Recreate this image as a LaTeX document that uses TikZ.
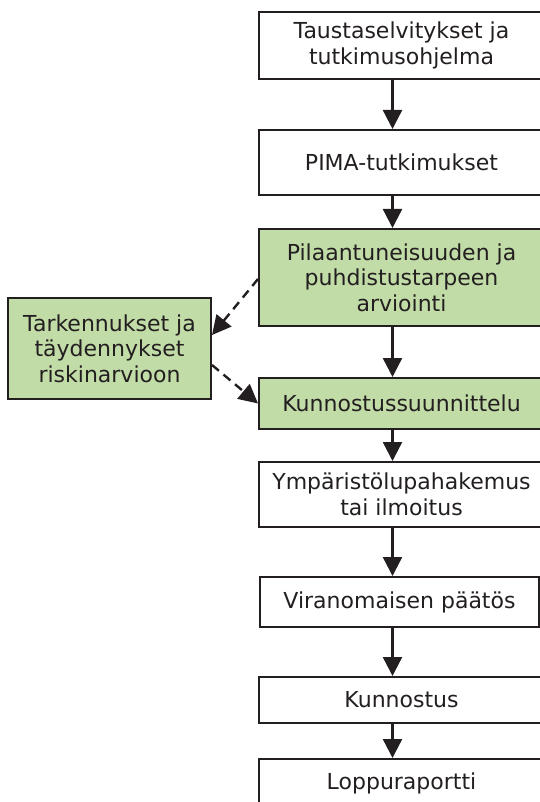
\documentclass[tikz,border=0pt]{standalone}
\usepackage{fontspec}
\setmainfont{DejaVu Sans}
\usetikzlibrary{arrows.meta}
\definecolor{vihrea}{RGB}{194,220,168}
\definecolor{tumma}{RGB}{35,31,32}
\tikzset{
  laatikko/.style={draw=tumma,line width=2pt,fill=white,text=tumma,align=center,
    inner sep=0pt,minimum width=285,font=\fontsize{22}{25.5}\selectfont},
  vihrealaatikko/.style={laatikko,fill=vihrea},
  nuoli/.style={-{Triangle[length=19pt,width=19pt]},line width=2.4pt,color=tumma},
  katkonuoli/.style={nuoli,dash pattern=on 9pt off 6pt}
}
\begin{document}
\begin{tikzpicture}[line cap=butt,line join=miter,x=1pt,y=-1pt]
\useasboundingbox (0,0) rectangle (540,802);
\clip (0,0) rectangle (540,802);
\coordinate (akseli) at (392.5,0);
\node[laatikko,minimum height=67] (tausta) at (401.5,45.5) {Taustaselvitykset ja\\tutkimusohjelma};
\node[laatikko,minimum height=65] (pima) at (401.5,162.5) {PIMA-tutkimukset};
\node[vihrealaatikko,minimum height=97] (arvio) at (401.5,277.5) {Pilaantuneisuuden ja\\puhdistustarpeen\\arviointi};
\node[vihrealaatikko,minimum height=51] (suunn) at (401.5,403.5) {Kunnostussuunnittelu};
\node[laatikko,minimum height=65] (lupa) at (401.5,494.5) {Ympäristölupahakemus\\tai ilmoitus};
\node[laatikko,minimum height=50,minimum width=279] (paatos) at (399.5,602) {Viranomaisen päätös};
\node[laatikko,minimum height=46] (kunn) at (401.5,700) {Kunnostus};
\node[laatikko,minimum height=50] (loppu) at (401.5,784) {\raisebox{6pt}{Loppuraportti}};
\node[vihrealaatikko,minimum height=101,minimum width=203] (tark) at (109.5,348.5) {Tarkennukset ja\\täydennykset\\riskinarvioon};
\draw[nuoli] (tausta.south -| akseli) -- (pima.north -| akseli);
\draw[nuoli] (pima.south -| akseli) -- (arvio.north -| akseli);
\draw[nuoli] (arvio.south -| akseli) -- (suunn.north -| akseli);
\draw[nuoli] (suunn.south -| akseli) -- (lupa.north -| akseli);
\draw[nuoli] (lupa.south -| akseli) -- (paatos.north -| akseli);
\draw[nuoli] (paatos.south -| akseli) -- (kunn.north -| akseli);
\draw[nuoli] (kunn.south -| akseli) -- (loppu.north -| akseli);
\draw[katkonuoli] ([yshift=-1.5pt]arvio.west) -- ([yshift=13.5pt]tark.east);
\draw[katkonuoli] ([yshift=-16.5pt]tark.east) -- (suunn.west);
\end{tikzpicture}
\end{document}
